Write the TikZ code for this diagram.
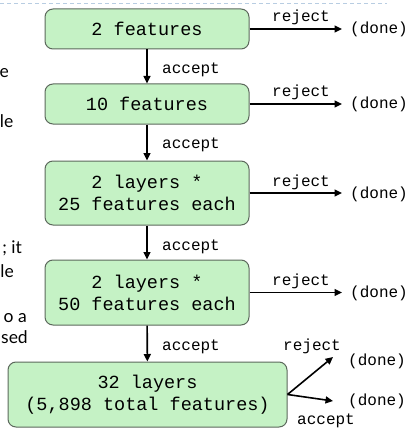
\documentclass[tikz,border=0pt]{standalone}
\usepackage{fontspec}
\setmonofont{Liberation Mono}
\newfontfamily\sidefont{Lato}
\usetikzlibrary{arrows.meta}

\definecolor{stagefill}{RGB}{197,242,197}
\definecolor{stageedge}{RGB}{92,104,92}
\definecolor{ruleblue}{RGB}{184,205,226}

\begin{document}
\begin{tikzpicture}[x=1pt,y=-1pt,
  stage/.style={draw=stageedge, fill=stagefill, rounded corners=8pt, line width=1pt,
    minimum width=204pt, align=center, inner sep=0pt,
    font=\ttfamily\fontsize{18.5}{22}\selectfont},
  lbl/.style={font=\ttfamily\fontsize{16}{18}\selectfont, inner sep=0pt, anchor=base west},
  done/.style={lbl, inner xsep=8pt},
  flow/.style={line width=1.6pt, -{Triangle[length=7.5pt,width=7pt]}},
  side/.style={font=\sidefont\fontsize{17.5}{21}\selectfont, anchor=base east, inner sep=0pt}]

\useasboundingbox (0,0) rectangle (410,433);

% dashed rule along the top
\draw[ruleblue, line width=1pt, dash pattern=on 4pt off 3pt] (0,4) -- (387,4);

% running text continuing at the left margin
\node[side] at (9,78)   {e};
\node[side] at (13.5,128) {le};
\node[side] at (22,253) {; it};
\node[side] at (14,277) {le};
\node[side] at (27,322) {o a};
\node[side] at (28,343) {sed};

% stages
\node[stage, minimum height=40pt] (n1) at (147,29)    {2 features};
\node[stage, minimum height=40pt] (n2) at (147,104)   {10 features};
\node[stage, minimum height=64pt] (n3) at (147,193)   {2 layers *\\25 features each};
\node[stage, minimum height=65pt] (n4) at (147,292.5) {2 layers *\\50 features each};
\node[stage, minimum width=279pt, minimum height=65pt] (n5) at (147.5,394.5)
  {32 layers\\(5,898 total features)};

% accept arrows between stages
\draw[flow] (n1) -- (n2);
\draw[flow] (n2) -- (n3);
\draw[flow] (n3) -- (n4);
\draw[flow] (n4) -- (n5);
\node[lbl] (a1) at (162,73.5)  {accept};
\node[lbl] (a2) at (162,148.5) {accept};
\node[lbl] (a3) at (162,250)   {accept};
\node[lbl] (a4) at (162,350.5) {accept};

% reject exits
\node[done] (d1) at (342,34)  {(done)};
\node[done] (d2) at (342,109) {(done)};
\node[done] (d3) at (342,198) {(done)};
\node[done] (d4) at (342,297.5) {(done)};
\draw[flow] (n1.east) -- (n1.east -| d1.west);
\draw[flow] (n2.east) -- (n2.east -| d2.west);
\draw[flow] (n3.east) -- (n3.east -| d3.west);
\draw[flow] (n4.east) -- (n4.east -| d4.west);
\node[lbl] (r1) at (272,22)    {reject};
\node[lbl] (r2) at (272,97)    {reject};
\node[lbl] (r3) at (272,186)   {reject};
\node[lbl] (r4) at (272,285.5) {reject};

% final stage: both outcomes end
\coordinate (rj) at (333,357);
\coordinate (ac) at (333,401);
\draw[flow] (n5.east) -- (rj);
\draw[flow] (n5.east) -- (ac);
\node[lbl] (r5) at (283,350) {reject};
\node[lbl] (d5) at (348,365) {(done)};
\node[lbl] (d6) at (348,405) {(done)};
\node[lbl] (a5) at (297,424) {accept};
\end{tikzpicture}
\end{document}
